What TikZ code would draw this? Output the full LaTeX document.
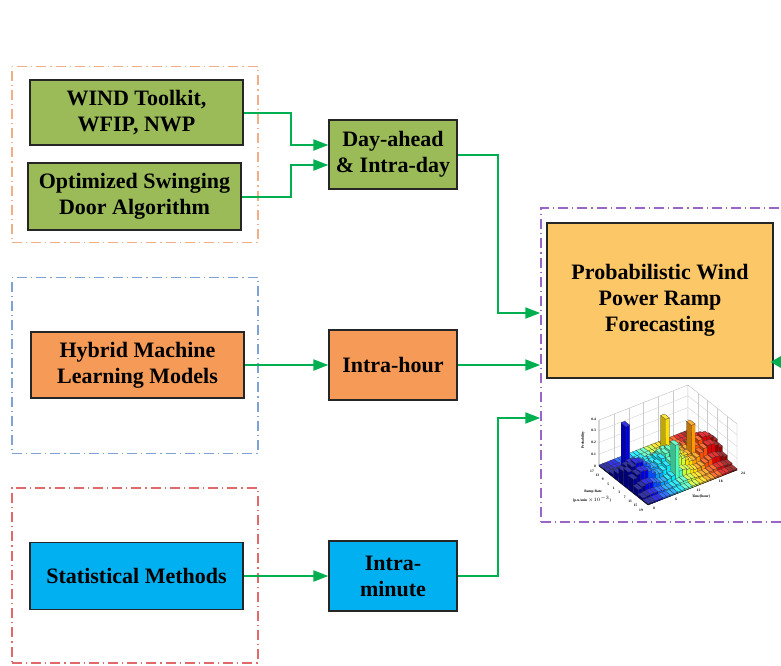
\documentclass[tikz,border=0pt]{standalone}
\usepackage{fontspec}
\setmainfont{Liberation Serif}
\usetikzlibrary{arrows.meta}
\definecolor{bgreen}{HTML}{9BBB59}
\definecolor{borange}{HTML}{F59B57}
\definecolor{bblue}{HTML}{00B0F0}
\definecolor{bfc}{HTML}{FCC766}
\definecolor{agreen}{HTML}{00B050}
\definecolor{gorange}{HTML}{F2AE86}
\definecolor{gblue}{HTML}{7FA2D4}
\definecolor{gred}{HTML}{E06A6A}
\definecolor{gpurple}{HTML}{9966C8}
\definecolor{jet0}{rgb}{0,0,0.6}
\definecolor{jet1}{rgb}{0,0,0.9}
\definecolor{jet2}{rgb}{0,0.3,1}
\definecolor{jet3}{rgb}{0,0.62,1}
\definecolor{jet4}{rgb}{0,0.9,1}
\definecolor{jet5}{rgb}{0.3,1,0.75}
\definecolor{jet6}{rgb}{0.8,1,0.2}
\definecolor{jet7}{rgb}{1,0.88,0}
\definecolor{jet8}{rgb}{1,0.6,0}
\definecolor{jet9}{rgb}{1,0.3,0}
\definecolor{jet10}{rgb}{0.88,0,0}
\definecolor{jet11}{rgb}{0.58,0,0}
\tikzset{
  blk/.style={draw=black!85, line width=1.3pt, align=center, inner sep=0pt,
    font=\bfseries\fontsize{22}{26}\selectfont},
  grp/.style={draw=#1, line width=1.5pt, dash pattern=on 10pt off 4pt on 1.2pt off 4pt},
  arr/.style={draw=agreen, line width=2pt, -{Triangle[length=15pt,width=11pt]}},
  tinytxt/.style={font=\bfseries\fontsize{3.6}{4}\selectfont, inner sep=0pt},
}
\begin{document}
\begin{tikzpicture}[x=1pt,y=-1pt]
\useasboundingbox (0,0) rectangle (781,665);
% groups
\node[grp=gorange, minimum width=246pt, minimum height=176pt] (g1) at (135,154.5) {};
\node[grp=gblue, minimum width=246pt, minimum height=176pt] (g2) at (135,365.5) {};
\node[grp=gred, minimum width=246pt, minimum height=175pt] (g3) at (135,575.5) {};
\node[grp=gpurple, minimum width=279pt, minimum height=314pt] (pg) at (680.5,365) {};
% boxes
\node[blk, fill=bgreen, minimum width=213pt, minimum height=65pt] (wind) at (136.5,112.5) {WIND Toolkit,\\WFIP, NWP};
\node[blk, fill=bgreen, minimum width=213pt, minimum height=67pt] (opt) at (134.5,196.5) {Optimized Swinging\\Door Algorithm};
\node[blk, fill=bgreen, minimum width=128pt, minimum height=69pt] (day) at (393,154.5) {Day-ahead\\\& Intra-day};
\node[blk, fill=borange, minimum width=213pt, minimum height=66pt] (hy) at (137.5,365) {Hybrid Machine\\Learning Models};
\node[blk, fill=borange, minimum width=128pt, minimum height=70pt] (ih) at (393,365) {Intra-hour};
\node[blk, fill=bblue, minimum width=213pt, minimum height=67pt] (st) at (136.5,576) {Statistical Methods};
\node[blk, fill=bblue, minimum width=128pt, minimum height=70pt] (im) at (393,576) {Intra-\\minute};
\node[blk, fill=bfc, minimum width=226pt, minimum height=155pt] (fc) at (660,300.5) {Probabilistic Wind\\Power Ramp\\Forecasting};
% arrows
\draw[arr] (wind.east) -- ++(47,0) |- ([yshift=9.5pt]day.west);
\draw[arr] (opt.east) -- ++(49,0) |- ([yshift=-10.5pt]day.west);
\draw[arr] (day.east) -- ++(40,0) |- ([yshift=52pt]pg.west);
\draw[arr] (hy.east) -- (ih.west);
\draw[arr] (ih.east) -- (pg.west);
\draw[arr] (st.east) -- (im.west);
\draw[arr] (im.east) -- ++(40,0) |- ([yshift=-53pt]pg.west);
\coordinate (rin) at (800,362);
\draw[draw=agreen, line width=2pt, -{Triangle[length=15pt,width=17pt]}] (rin) -- ([xshift=-3pt,yshift=-61.5pt]fc.east);
% chart
\begin{scope}
\draw[gray!60, line width=0.3pt, fill=white] (599,466) -- (688,431) -- (688,385) -- (599,420) -- cycle;
\draw[gray!60, line width=0.3pt, fill=white] (688,431) -- (737,470) -- (737,424) -- (688,385) -- cycle;
\foreach \k in {1,...,3} {
  \draw[gray!40, line width=0.3pt] (599,{466-11.75*\k}) -- (688,{431-11.75*\k}) -- (737,{470-11.75*\k});
}
\foreach \k in {1,...,5} {
  \draw[gray!40, line width=0.3pt] ({599+89*\k/6},{466-35*\k/6}) -- ++(0,-46);
}
\foreach \k in {1,...,4} {
  \draw[gray!40, line width=0.3pt] ({688+49*\k/5},{431+39*\k/5}) -- ++(0,-46);
}
\foreach \i in {23,22,...,0} {
  \foreach \j in {0,...,9} {
    \pgfmathtruncatemacro\c{\i/2}
    \pgfmathsetmacro\px{599+3.708*\i+4.9*\j}
    \pgfmathsetmacro\py{466-1.458*\i+3.9*\j}
    \pgfmathsetmacro\sp{and(\i==2,\j==3)*0.36+and(\i==14,\j==2)*0.30+and(\i==10,\j==7)*0.24+and(\i==17,\j==5)*0.22}
    \pgfmathsetmacro\hh{117*(0.008+(0.14+0.05*sin(\i*40))*exp(-((\j-5)^2)/4.5)+\sp)}
    \fill[jet\c!75!black, draw=black!80, line width=0.18pt] (\px,\py) -- ++(4.9,3.9) -- ++(0,-\hh) -- ++(-4.9,-3.9) -- cycle;
    \fill[jet\c, draw=black!80, line width=0.18pt] ({\px+4.9},{\py+3.9}) -- ++(3.708,-1.458) -- ++(0,-\hh) -- ++(-3.708,1.458) -- cycle;
    \fill[jet\c!80!white, draw=black!80, line width=0.18pt] (\px,{\py-\hh}) -- ++(3.708,-1.458) -- ++(4.9,3.9) -- ++(-3.708,1.458) -- cycle;
  }
}
\draw[black, line width=0.3pt] (599,420) -- (599,466) -- (648,505) -- (737,470);
\foreach \v/\t in {0/0, 1/0.1, 2/0.2, 3/0.3, 4/0.4} {
  \node[tinytxt, anchor=east] at (596,{466-11.75*\v}) {\t};
}
\node[tinytxt, rotate=90] at (583,440) {Probability};
\foreach \k/\t in {0/17, 1/13, 2/9, 3/5, 4/1, 5/3, 6/7, 7/11, 8/15, 9/19} {
  \node[tinytxt] at ({592+49*\k/9},{471+39*\k/9}) {\t};
}
\foreach \k/\t in {0/0, 1/6, 2/12, 3/18, 4/24} {
  \node[tinytxt] at ({654+89*\k/4},{508-35*\k/4}) {\t};
}
\node[tinytxt] at (593,492) {Ramp Rate};
\node[tinytxt] at (592,499) {[p.u./min $\times10^{-3}$]};
\node[tinytxt] at (701,496) {Time[hour]};
\end{scope}
\end{tikzpicture}
\end{document}
